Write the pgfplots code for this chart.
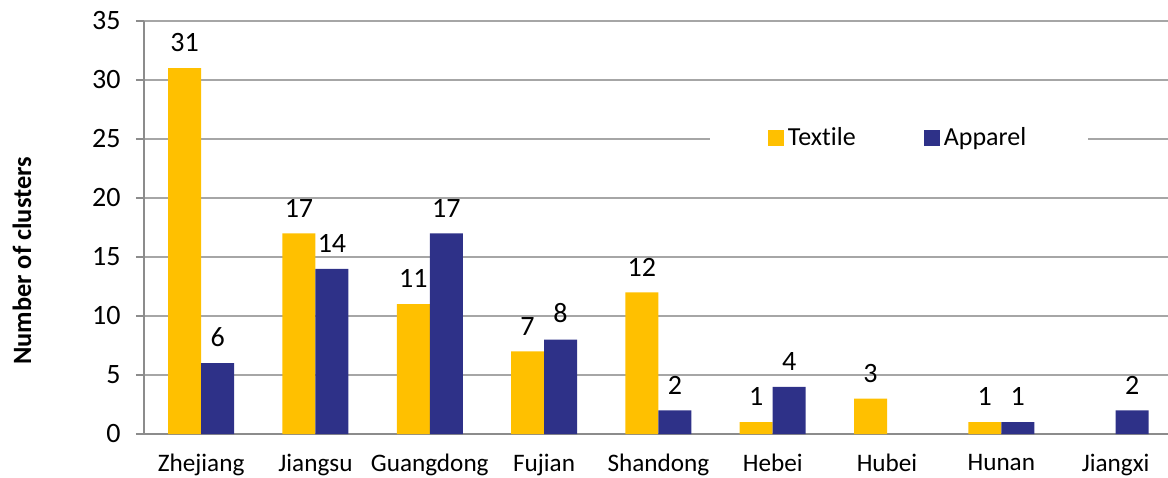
\documentclass[border=0pt]{standalone}
\usepackage{fontspec}
\setmainfont{Carlito}[Ligatures={NoCommon}]
\usepackage{pgfplots}
\pgfplotsset{compat=1.18}

\definecolor{textile}{HTML}{FFC000}
\definecolor{apparel}{HTML}{2E3188}
\definecolor{gridgray}{HTML}{A6A6A6}
\definecolor{axisgray}{HTML}{8C8C8C}

\begin{document}
\begin{tikzpicture}
\begin{axis}[
  at={(0,0)}, anchor=south west,
  scale only axis,
  width=514.4pt, height=206.5pt,
  font=\fontsize{12.6}{15}\selectfont,
  /pgf/number format/assume math mode=true,
  ybar=0pt, bar width=16.5pt,
  xmin=-0.5, xmax=8.5,
  ymin=0, ymax=35,
  ytick={0,5,...,35},
  xtick={0,...,8},
  xticklabels={Zhejiang,Jiangsu,Guangdong,Fujian,Shandong,Hebei,Hubei,Hunan,Jiangxi},
  minor xtick={-0.5,0.5,...,8.5},
  axis x line*=bottom, axis y line*=left,
  axis line style={axisgray, line width=0.9pt},
  tick align=outside,
  x tick style={draw=none},
  minor x tick style={axisgray, line width=0.9pt},
  y tick style={axisgray, line width=0.9pt},
  major tick length=4pt, minor tick length=3.5pt,
  ymajorgrids,
  grid style={gridgray, line width=0.9pt},
  xticklabel style={anchor=north, inner sep=0pt, yshift=-6pt},
  yticklabel style={anchor=east, inner sep=0pt, xshift=-7.5pt, font=\fontsize{14}{16}\selectfont},
  ylabel={\fontsize{13.2}{16}\selectfont\bfseries Number of clusters},
  ylabel style={at={(axis description cs:-0.1186,0.419)}, anchor=center},
  nodes near coords,
  every node near coord/.append style={anchor=south, inner sep=0pt, yshift=8pt, font=\fontsize{14}{16}\selectfont, text=black},
  legend columns=2,
  legend image code/.code={\fill[#1] (0pt,-4pt) rectangle (8pt,4pt);},
  legend style={
    at={(axis description cs:0.734,0.7167)}, anchor=center,
    draw=none, fill=white, inner xsep=29pt, inner ysep=4pt,
    font=\fontsize{13}{15}\selectfont,
    /tikz/every even column/.append style={column sep=32pt},
  },
]
\addplot[fill=textile, draw=none] coordinates {
  (0,31) (1,17) (2,11) (3,7) (4,12) (5,1) (6,3) (7,1)
};
\addplot[fill=apparel, draw=none] coordinates {
  (0,6) (1,14) (2,17) (3,8) (4,2) (5,4) (7,1) (8,2)
};
\legend{Textile,Apparel}
\end{axis}
\pgfresetboundingbox
\useasboundingbox (-72pt,-21.5pt) rectangle (512pt,217pt);
\end{tikzpicture}
\end{document}
